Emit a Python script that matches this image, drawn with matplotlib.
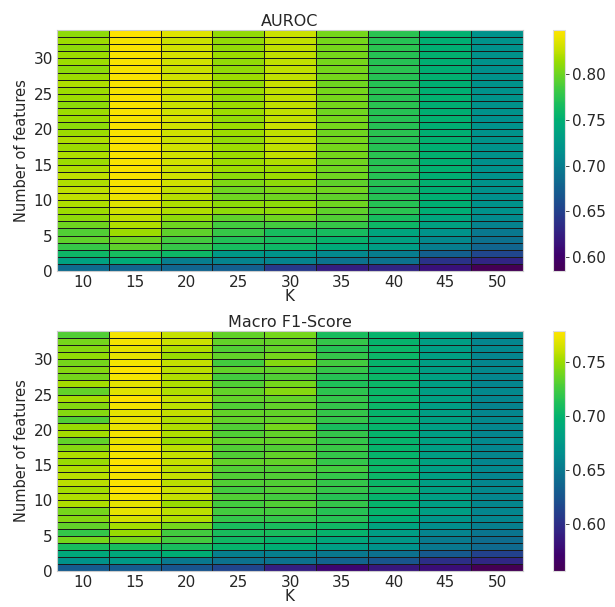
import numpy as np
import matplotlib.pyplot as plt
from matplotlib.colors import ListedColormap, rgb_to_hsv, hsv_to_rgb

# K values (columns) and number of features (rows 1..34, bottom to top)
k_values = [10, 15, 20, 25, 30, 35, 40, 45, 50]

# AUROC per K, listed from row 0 (bottom) to row 33 (top)
auroc_k10 = [0.685, 0.735, 0.76, 0.78, 0.795, 0.79, 0.80, 0.81, 0.815, 0.82, 0.825, 0.825,
             0.82, 0.825, 0.82, 0.815, 0.82, 0.815, 0.82, 0.815, 0.81, 0.815, 0.815, 0.81,
             0.815, 0.815, 0.82, 0.815, 0.81, 0.815, 0.815, 0.81, 0.815, 0.81]
auroc_k15 = [0.68, 0.745, 0.765, 0.795, 0.80, 0.815, 0.82, 0.825, 0.83, 0.835, 0.84, 0.842,
             0.845, 0.845, 0.845, 0.845, 0.845, 0.845, 0.843, 0.845, 0.845, 0.843, 0.845, 0.845,
             0.845, 0.843, 0.845, 0.845, 0.843, 0.845, 0.845, 0.845, 0.843, 0.848]
auroc_k20 = [0.68, 0.70, 0.76, 0.78, 0.785, 0.795, 0.80, 0.81, 0.82, 0.82, 0.822, 0.825,
             0.83, 0.83, 0.828, 0.83, 0.83, 0.83, 0.828, 0.83, 0.83, 0.832, 0.83, 0.828,
             0.83, 0.83, 0.832, 0.83, 0.828, 0.83, 0.832, 0.83, 0.828, 0.835]
auroc_k25 = [0.675, 0.705, 0.725, 0.765, 0.77, 0.78, 0.785, 0.795, 0.81, 0.81, 0.80, 0.80,
             0.805, 0.81, 0.815, 0.815, 0.815, 0.815, 0.812, 0.815, 0.815, 0.812, 0.815, 0.815,
             0.812, 0.815, 0.812, 0.815, 0.812, 0.812, 0.815, 0.812, 0.812, 0.812]
auroc_k30 = [0.645, 0.705, 0.72, 0.76, 0.765, 0.765, 0.785, 0.80, 0.81, 0.81, 0.80, 0.805,
             0.81, 0.815, 0.815, 0.82, 0.825, 0.825, 0.825, 0.825, 0.828, 0.825, 0.825, 0.825,
             0.825, 0.825, 0.828, 0.825, 0.825, 0.825, 0.825, 0.825, 0.825, 0.828]
auroc_k35 = [0.625, 0.69, 0.71, 0.745, 0.755, 0.765, 0.78, 0.79, 0.795, 0.80, 0.795, 0.80,
             0.795, 0.80, 0.80, 0.80, 0.802, 0.802, 0.802, 0.80, 0.802, 0.802, 0.80, 0.802,
             0.802, 0.802, 0.80, 0.802, 0.802, 0.802, 0.802, 0.802, 0.802, 0.802]
auroc_k40 = [0.63, 0.69, 0.70, 0.73, 0.735, 0.74, 0.76, 0.765, 0.775, 0.772, 0.772, 0.768,
             0.772, 0.772, 0.775, 0.772, 0.775, 0.773, 0.772, 0.775, 0.773, 0.772, 0.773, 0.775,
             0.773, 0.775, 0.772, 0.773, 0.775, 0.773, 0.773, 0.775, 0.773, 0.775]
auroc_k45 = [0.615, 0.64, 0.675, 0.70, 0.71, 0.72, 0.735, 0.74, 0.748, 0.75, 0.75, 0.75,
             0.752, 0.75, 0.752, 0.75, 0.752, 0.75, 0.752, 0.75, 0.75, 0.752, 0.75, 0.75,
             0.752, 0.75, 0.75, 0.752, 0.75, 0.75, 0.752, 0.75, 0.75, 0.752]
auroc_k50 = [0.585, 0.63, 0.655, 0.68, 0.69, 0.695, 0.705, 0.712, 0.718, 0.718, 0.716, 0.718,
             0.72, 0.718, 0.718, 0.716, 0.718, 0.718, 0.72, 0.718, 0.718, 0.716, 0.718, 0.718,
             0.72, 0.718, 0.718, 0.718, 0.716, 0.718, 0.718, 0.718, 0.72, 0.718]

# Macro F1-Score per K, listed from row 0 (bottom) to row 33 (top)
f1_k10 = [0.63, 0.67, 0.69, 0.71, 0.74, 0.72, 0.735, 0.745, 0.74, 0.755, 0.755, 0.752,
          0.758, 0.758, 0.755, 0.75, 0.755, 0.745, 0.735, 0.752, 0.75, 0.73, 0.745, 0.745,
          0.752, 0.735, 0.752, 0.74, 0.745, 0.74, 0.748, 0.745, 0.74, 0.73]
f1_k15 = [0.63, 0.675, 0.69, 0.71, 0.74, 0.75, 0.752, 0.765, 0.77, 0.77, 0.775, 0.778,
          0.778, 0.775, 0.775, 0.778, 0.775, 0.775, 0.77, 0.775, 0.772, 0.77, 0.77, 0.775,
          0.779, 0.768, 0.77, 0.775, 0.778, 0.775, 0.77, 0.77, 0.775, 0.775]
f1_k20 = [0.625, 0.65, 0.695, 0.71, 0.725, 0.725, 0.74, 0.755, 0.758, 0.75, 0.76, 0.762,
          0.758, 0.76, 0.758, 0.76, 0.76, 0.758, 0.75, 0.755, 0.755, 0.755, 0.76, 0.758,
          0.76, 0.755, 0.755, 0.755, 0.758, 0.76, 0.75, 0.755, 0.762, 0.76]
f1_k25 = [0.615, 0.645, 0.655, 0.70, 0.705, 0.71, 0.71, 0.72, 0.725, 0.725, 0.73, 0.725,
          0.73, 0.73, 0.73, 0.735, 0.73, 0.73, 0.735, 0.73, 0.73, 0.735, 0.735, 0.73,
          0.735, 0.735, 0.73, 0.725, 0.735, 0.725, 0.735, 0.73, 0.735, 0.735]
f1_k30 = [0.59, 0.645, 0.655, 0.695, 0.70, 0.71, 0.71, 0.72, 0.725, 0.73, 0.725, 0.73,
          0.73, 0.73, 0.73, 0.735, 0.735, 0.73, 0.735, 0.735, 0.74, 0.735, 0.735, 0.735,
          0.735, 0.745, 0.74, 0.73, 0.735, 0.745, 0.74, 0.735, 0.735, 0.74]
f1_k35 = [0.575, 0.635, 0.65, 0.68, 0.69, 0.70, 0.705, 0.715, 0.715, 0.72, 0.715, 0.72,
          0.72, 0.72, 0.725, 0.72, 0.72, 0.722, 0.72, 0.72, 0.71, 0.72, 0.72, 0.72,
          0.72, 0.718, 0.712, 0.715, 0.72, 0.725, 0.72, 0.715, 0.72, 0.71]
f1_k40 = [0.585, 0.625, 0.645, 0.67, 0.675, 0.68, 0.685, 0.695, 0.70, 0.70, 0.70, 0.708,
          0.703, 0.703, 0.703, 0.703, 0.70, 0.70, 0.70, 0.70, 0.70, 0.703, 0.70, 0.703,
          0.703, 0.703, 0.703, 0.703, 0.70, 0.70, 0.703, 0.703, 0.70, 0.70]
f1_k45 = [0.58, 0.60, 0.628, 0.65, 0.652, 0.658, 0.665, 0.672, 0.68, 0.68, 0.68, 0.682,
          0.68, 0.682, 0.68, 0.684, 0.68, 0.68, 0.682, 0.68, 0.68, 0.682, 0.68, 0.68,
          0.682, 0.68, 0.68, 0.682, 0.68, 0.68, 0.682, 0.68, 0.68, 0.682]
f1_k50 = [0.556, 0.595, 0.612, 0.64, 0.642, 0.648, 0.655, 0.66, 0.66, 0.66, 0.66, 0.662,
          0.66, 0.66, 0.662, 0.66, 0.66, 0.66, 0.662, 0.66, 0.66, 0.662, 0.66, 0.657,
          0.66, 0.662, 0.66, 0.66, 0.662, 0.66, 0.66, 0.662, 0.66, 0.662]

auroc = np.column_stack([auroc_k10, auroc_k15, auroc_k20, auroc_k25, auroc_k30,
                         auroc_k35, auroc_k40, auroc_k45, auroc_k50])
f1 = np.column_stack([f1_k10, f1_k15, f1_k20, f1_k25, f1_k30,
                      f1_k35, f1_k40, f1_k45, f1_k50])

# the reference's viridis looks more saturated than the stock one
base = plt.get_cmap('viridis')(np.linspace(0, 1, 256))[:, :3]
hsv = rgb_to_hsv(base)
hsv[:, 1] = np.clip(hsv[:, 1] * 1.3, 0, 1)
cmap = ListedColormap(hsv_to_rgb(hsv))

# cell edges: columns centred on K, rows between integer feature counts
x_edges = np.append(np.array(k_values) - 2.5, k_values[-1] + 2.5)
y_edges = np.arange(auroc.shape[0] + 1)

W, H = 615, 607
fig = plt.figure(figsize=(W / 100, H / 100), dpi=100)
txt = '#262626'

panels = [
    (auroc, 'AUROC', 30, 271, [0.60, 0.65, 0.70, 0.75, 0.80]),
    (f1, 'Macro F1-Score', 331, 571, [0.60, 0.65, 0.70, 0.75]),
]

for data, title, top, bottom, cticks in panels:
    ax = fig.add_axes([57 / W, 1 - bottom / H, 466 / W, (bottom - top) / H])
    cax = fig.add_axes([553 / W, 1 - bottom / H, 12 / W, (bottom - top) / H])

    mesh = ax.pcolormesh(x_edges, y_edges, data, cmap=cmap,
                         edgecolors='#1a1a1a', linewidth=0.7)
    ax.set_xticks(k_values)
    ax.set_yticks([0, 5, 10, 15, 20, 25, 30])
    ax.tick_params(length=0, labelsize=11, colors=txt, pad=3)
    ax.set_title(title, fontsize=11.5, color=txt, pad=3)
    ax.set_xlabel('K', fontsize=11, color=txt, labelpad=-1)
    ax.set_ylabel('Number of features', fontsize=10.5, color=txt, labelpad=3)
    for s in ax.spines.values():
        s.set_color('#cccccc')

    cb = fig.colorbar(mesh, cax=cax)
    cb.set_ticks(cticks)
    cb.ax.tick_params(labelsize=11, colors=txt, length=3, width=0.6, pad=2)
    cb.outline.set_edgecolor('#dddddd')

fig.savefig('out.png', dpi=100)
